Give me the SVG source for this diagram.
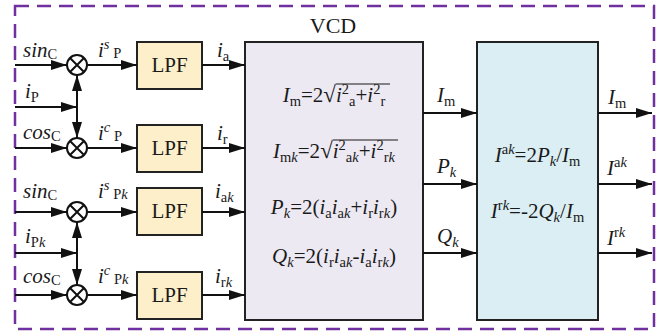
<svg xmlns="http://www.w3.org/2000/svg" width="663" height="335" viewBox="0 0 663 335">
<defs>
<style>
text{font-family:"Liberation Serif","Times New Roman",serif;font-size:21px;fill:#1a1a1a}
.it{font-style:italic}
.s{font-size:14.5px}
.si{font-size:14.5px;font-style:italic}
.rad{font-size:23px}
.box{stroke:#222;stroke-width:2}
.lpf{fill:#FCEFCA}
.ln{stroke:#111;stroke-width:2;fill:none}
.arr{marker-end:url(#ah)}
.bar{stroke:#1a1a1a;stroke-width:1.2}
</style>
<marker id="ah" markerWidth="16" markerHeight="10" refX="16" refY="5" orient="auto-start-reverse" markerUnits="userSpaceOnUse"><path d="M0,0 L16,5 L0,10 z" fill="#111"/></marker>
</defs>
<rect width="663" height="335" fill="#fff"/>
<rect x="15" y="6" width="639" height="323" fill="none" stroke="#7030A0" stroke-width="2.5" stroke-dasharray="14 8"/>

<g id="mult1"><circle cx="77" cy="65" r="10" fill="#fff" class="ln"/><path d="M70,58 L84,72 M84,58 L70,72" class="ln"/></g>
<g id="mult2"><circle cx="77" cy="148" r="10" fill="#fff" class="ln"/><path d="M70,141 L84,155 M84,141 L70,155" class="ln"/></g>
<g id="mult3"><circle cx="77" cy="212" r="10" fill="#fff" class="ln"/><path d="M70,205 L84,219 M84,205 L70,219" class="ln"/></g>
<g id="mult4"><circle cx="77" cy="295" r="10" fill="#fff" class="ln"/><path d="M70,288 L84,302 M84,288 L70,302" class="ln"/></g>

<g id="lpf1"><rect x="137" y="42" width="65" height="47" class="box lpf"/><text x="169.5" y="72" text-anchor="middle">LPF</text></g>
<g id="lpf2"><rect x="137" y="125" width="65" height="47" class="box lpf"/><text x="169.5" y="155" text-anchor="middle">LPF</text></g>
<g id="lpf3"><rect x="137" y="188" width="65" height="47" class="box lpf"/><text x="169.5" y="218" text-anchor="middle">LPF</text></g>
<g id="lpf4"><rect x="137" y="272" width="65" height="47" class="box lpf"/><text x="169.5" y="302" text-anchor="middle">LPF</text></g>

<g id="vcd">
<rect x="245" y="42" width="178" height="278" class="box" fill="#ECE9F3"/>
<text x="333" y="33" text-anchor="middle" style="font-size:22px">VCD</text>
<text x="334" y="102" text-anchor="middle"><tspan class="it">I</tspan><tspan class="s" dy="4">m</tspan><tspan dy="-4">=2</tspan><tspan class="rad">√</tspan><tspan class="it">i</tspan><tspan class="s" dy="-8">2</tspan><tspan class="s" dy="12">a</tspan><tspan dy="-4">+</tspan><tspan class="it">i</tspan><tspan class="s" dy="-8">2</tspan><tspan class="s" dy="12">r</tspan></text>
<line x1="336" y1="84" x2="390" y2="84" class="bar"/>
<text x="334" y="158" text-anchor="middle"><tspan class="it">I</tspan><tspan class="s" dy="4">m</tspan><tspan class="si">k</tspan><tspan dy="-4">=2</tspan><tspan class="rad">√</tspan><tspan class="it">i</tspan><tspan class="s" dy="-8">2</tspan><tspan class="s" dy="12">a</tspan><tspan class="si">k</tspan><tspan dy="-4">+</tspan><tspan class="it">i</tspan><tspan class="s" dy="-8">2</tspan><tspan class="s" dy="12">r</tspan><tspan class="si">k</tspan></text>
<line x1="333" y1="140" x2="398" y2="140" class="bar"/>
<text x="334" y="214" text-anchor="middle"><tspan class="it">P</tspan><tspan class="si" dy="4">k</tspan><tspan dy="-4">=2(</tspan><tspan class="it">i</tspan><tspan class="s" dy="4">a</tspan><tspan class="it" dy="-4">i</tspan><tspan class="s" dy="4">a</tspan><tspan class="si">k</tspan><tspan dy="-4">+</tspan><tspan class="it">i</tspan><tspan class="s" dy="4">r</tspan><tspan class="it" dy="-4">i</tspan><tspan class="s" dy="4">r</tspan><tspan class="si">k</tspan><tspan dy="-4">)</tspan></text>
<text x="334" y="263" text-anchor="middle"><tspan class="it">Q</tspan><tspan class="si" dy="4">k</tspan><tspan dy="-4">=2(</tspan><tspan class="it">i</tspan><tspan class="s" dy="4">r</tspan><tspan class="it" dy="-4">i</tspan><tspan class="s" dy="4">a</tspan><tspan class="si">k</tspan><tspan dy="-4">-</tspan><tspan class="it">i</tspan><tspan class="s" dy="4">a</tspan><tspan class="it" dy="-4">i</tspan><tspan class="s" dy="4">r</tspan><tspan class="si">k</tspan><tspan dy="-4">)</tspan></text>
</g>

<g id="calc">
<rect x="477" y="42" width="121" height="278" class="box" fill="#DAEEF3"/>
<text x="537.5" y="162" text-anchor="middle"><tspan class="it">I</tspan><tspan class="s" dy="-8">a</tspan><tspan class="si">k</tspan><tspan dy="8">=2</tspan><tspan class="it">P</tspan><tspan class="si" dy="4">k</tspan><tspan dy="-4">/</tspan><tspan class="it">I</tspan><tspan class="s" dy="4">m</tspan></text>
<text x="537.5" y="218" text-anchor="middle"><tspan class="it">I</tspan><tspan class="s" dy="-8">r</tspan><tspan class="si">k</tspan><tspan dy="8">=-2</tspan><tspan class="it">Q</tspan><tspan class="si" dy="4">k</tspan><tspan dy="-4">/</tspan><tspan class="it">I</tspan><tspan class="s" dy="4">m</tspan></text>
</g>

<g id="connectors">
<line x1="15" y1="65" x2="67" y2="65" class="ln arr"/>
<line x1="87" y1="65" x2="137" y2="65" class="ln arr"/>
<line x1="202" y1="65" x2="245" y2="65" class="ln arr"/>
<line x1="15" y1="107" x2="77" y2="107" class="ln arr"/>
<line x1="77" y1="75" x2="77" y2="138" class="ln" marker-start="url(#ah)" marker-end="url(#ah)"/>
<line x1="15" y1="148" x2="67" y2="148" class="ln arr"/>
<line x1="87" y1="148" x2="137" y2="148" class="ln arr"/>
<line x1="202" y1="148" x2="245" y2="148" class="ln arr"/>

<line x1="15" y1="212" x2="67" y2="212" class="ln arr"/>
<line x1="87" y1="212" x2="137" y2="212" class="ln arr"/>
<line x1="202" y1="212" x2="245" y2="212" class="ln arr"/>
<line x1="15" y1="253" x2="77" y2="253" class="ln arr"/>
<line x1="77" y1="222" x2="77" y2="285" class="ln" marker-start="url(#ah)" marker-end="url(#ah)"/>
<line x1="15" y1="295" x2="67" y2="295" class="ln arr"/>
<line x1="87" y1="295" x2="137" y2="295" class="ln arr"/>
<line x1="202" y1="295" x2="245" y2="295" class="ln arr"/>

<line x1="423" y1="113" x2="477" y2="113" class="ln arr"/>
<line x1="423" y1="184" x2="477" y2="184" class="ln arr"/>
<line x1="423" y1="253" x2="477" y2="253" class="ln arr"/>
<line x1="598" y1="113" x2="652" y2="113" class="ln arr"/>
<line x1="598" y1="184" x2="652" y2="184" class="ln arr"/>
<line x1="598" y1="253" x2="652" y2="253" class="ln arr"/>
</g>

<g id="labels">
<text x="23" y="57"><tspan class="it">sin</tspan><tspan class="s" dy="2">C</tspan></text>
<text x="98" y="57"><tspan class="it">i</tspan><tspan class="si" dy="-8">s</tspan><tspan class="s" dy="9"> P</tspan></text>
<text x="217" y="57"><tspan class="it">i</tspan><tspan class="s" dy="4">a</tspan></text>
<text x="25" y="98"><tspan class="it">i</tspan><tspan class="s" dy="4">P</tspan></text>
<text x="23" y="139"><tspan class="it">cos</tspan><tspan class="s" dy="2">C</tspan></text>
<text x="98" y="140"><tspan class="it">i</tspan><tspan class="si" dy="-8">c</tspan><tspan class="s" dy="9"> P</tspan></text>
<text x="217" y="140"><tspan class="it">i</tspan><tspan class="s" dy="4">r</tspan></text>

<text x="23" y="198"><tspan class="it">sin</tspan><tspan class="s" dy="2">C</tspan></text>
<text x="98" y="198"><tspan class="it">i</tspan><tspan class="si" dy="-8">s</tspan><tspan class="s" dy="9"> P</tspan><tspan class="si">k</tspan></text>
<text x="215" y="198"><tspan class="it">i</tspan><tspan class="s" dy="4">a</tspan><tspan class="si">k</tspan></text>
<text x="25" y="243"><tspan class="it">i</tspan><tspan class="s" dy="4">P</tspan><tspan class="si">k</tspan></text>
<text x="23" y="283"><tspan class="it">cos</tspan><tspan class="s" dy="2">C</tspan></text>
<text x="98" y="283"><tspan class="it">i</tspan><tspan class="si" dy="-8">c</tspan><tspan class="s" dy="9"> P</tspan><tspan class="si">k</tspan></text>
<text x="215" y="283"><tspan class="it">i</tspan><tspan class="s" dy="4">r</tspan><tspan class="si">k</tspan></text>

<text x="437" y="102"><tspan class="it">I</tspan><tspan class="s" dy="4">m</tspan></text>
<text x="437" y="173"><tspan class="it">P</tspan><tspan class="si" dy="4">k</tspan></text>
<text x="437" y="243"><tspan class="it">Q</tspan><tspan class="si" dy="4">k</tspan></text>
<text x="608" y="104"><tspan class="it">I</tspan><tspan class="s" dy="4">m</tspan></text>
<text x="607" y="175"><tspan class="it">I</tspan><tspan class="s" dy="-8">a</tspan><tspan class="si">k</tspan></text>
<text x="607" y="245"><tspan class="it">I</tspan><tspan class="s" dy="-8">r</tspan><tspan class="si">k</tspan></text>
</g>
</svg>
